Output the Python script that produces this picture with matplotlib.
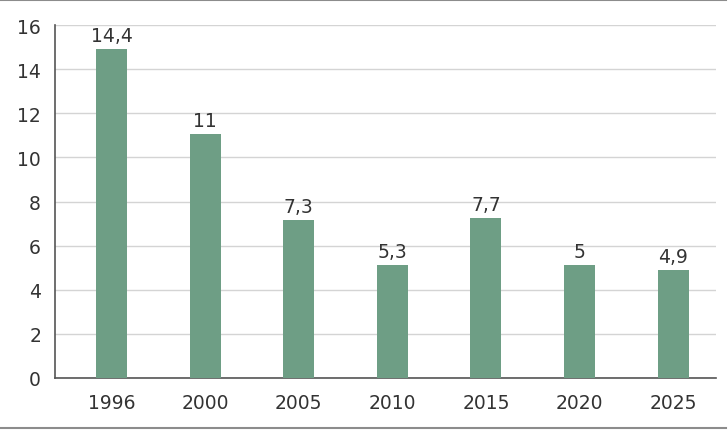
import numpy as np
import matplotlib.pyplot as plt
from matplotlib.lines import Line2D

years = ["1996", "2000", "2005", "2010", "2015", "2020", "2025"]
heights = [14.92, 11.05, 7.14, 5.1, 7.25, 5.13, 4.88]
labels = ["14,4", "11", "7,3", "5,3", "7,7", "5", "4,9"]
yticks = [0, 2, 4, 6, 8, 10, 12, 14, 16]

plt.rcParams['font.family'] = ['DejaVu Sans']
txt = '#333333'

fig = plt.figure(figsize=(7.28, 4.31), dpi=100)
ax = fig.add_axes([55 / 728, 52 / 431, 661 / 728, 353 / 431])

x = np.arange(len(years))
bars = ax.bar(x, heights, width=0.33, color='#6e9e85', zorder=3)
for b, lab in zip(bars, labels):
    ax.annotate(lab, (b.get_x() + b.get_width() / 2, b.get_height()),
                xytext=(0, 3), textcoords='offset points',
                ha='center', va='bottom', fontsize=13.5, color=txt)

ax.set_xlim(-0.604, 6.458)
ax.set_ylim(0, 16)
ax.set_yticks(yticks)
ax.set_xticks(x)
ax.set_xticklabels(years)
ax.tick_params(axis='both', length=0, labelsize=13.5, colors=txt)
ax.tick_params(axis='y', pad=10)
ax.tick_params(axis='x', pad=11)
ax.grid(axis='y', color='#d4d4d4', linewidth=1, zorder=0)
for s in ['top', 'right']:
    ax.spines[s].set_visible(False)
for s in ['left', 'bottom']:
    ax.spines[s].set_color('#555555')
    ax.spines[s].set_linewidth(1.2)

fig.add_artist(Line2D([0, 0.997], [0.997, 0.997], color='#8c8c8c', linewidth=1.5))
fig.add_artist(Line2D([0, 0.997], [0.004, 0.004], color='#8c8c8c', linewidth=1.5))

fig.savefig('out.png', dpi=100)
